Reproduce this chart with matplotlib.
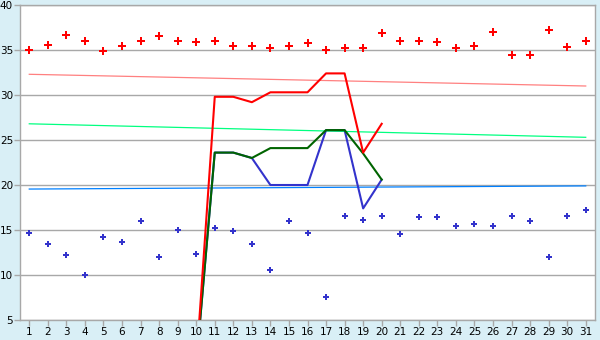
import matplotlib
matplotlib.use('Agg')
import matplotlib.pyplot as plt

# Days of the month
days = list(range(1, 32))

# Upper scatter (red) and lower scatter (blue)
high_pts = [35.0, 35.6, 36.7, 36.0, 34.9, 35.4, 36.0, 36.6, 36.0, 35.9,
            36.0, 35.4, 35.4, 35.2, 35.4, 35.8, 35.0, 35.2, 35.2, 36.9,
            36.0, 36.0, 35.9, 35.2, 35.4, 37.0, 34.4, 34.4, 37.2, 35.3, 36.0]
low_pts = [14.7, 13.4, 12.2, 10.0, 14.2, 13.7, 16.0, 12.0, 15.0, 12.3,
           15.2, 14.9, 13.4, 10.6, 16.0, 14.7, 7.6, 16.6, 16.1, 16.6,
           14.6, 16.4, 16.4, 15.4, 15.7, 15.4, 16.6, 16.0, 12.0, 16.6, 17.2]

# Thick lines, days 10..20
line_days = list(range(10, 21))
red_line = [0.0, 29.8, 29.8, 29.2, 30.3, 30.3, 30.3, 32.4, 32.4, 23.6, 26.8]
green_line = [0.0, 23.6, 23.6, 23.0, 24.1, 24.1, 24.1, 26.1, 26.1, 23.5, 20.6]
blue_line = [0.0, 23.6, 23.6, 23.0, 20.0, 20.0, 20.0, 26.1, 26.1, 17.4, 20.6]

# Thin trend lines (day 1 and day 31)
trend_days = [1, 31]
red_trend = [32.3, 31.0]
green_trend = [26.8, 25.3]
blue_trend = [19.55, 19.9]

fig = plt.figure(figsize=(6, 3.4), dpi=100, facecolor='#d9eff6')
ax = fig.add_axes([20/600, 20/340, 575/600, 315/340])
ax.set_facecolor('white')

ax.plot(trend_days, red_trend, color='#ff8080', lw=0.9, zorder=2)
ax.plot(trend_days, green_trend, color='#00ff80', lw=0.9, zorder=2)
ax.plot(trend_days, blue_trend, color='#0080ff', lw=0.9, zorder=2)

ax.scatter(days, high_pts, marker='P', s=26, color='#ff0000', lw=0, zorder=3)
ax.scatter(days, low_pts, marker='P', s=18, color='#3333cc', lw=0, zorder=3)

ax.plot(line_days, blue_line, color='#3333cc', lw=1.5, zorder=4)
ax.plot(line_days, green_line, color='#006400', lw=1.5, zorder=5)
ax.plot(line_days, red_line, color='#ff0000', lw=1.5, zorder=6)

ax.set_xlim(0.5, 31.5)
ax.set_ylim(5, 40)
ax.set_xticks(days)
ax.set_yticks(range(5, 41, 5))
ax.yaxis.grid(True, color='#a8a8a8', lw=1)
ax.set_axisbelow(True)
for s in ax.spines.values():
    s.set_color('#a8a8a8')
    s.set_linewidth(1)
ax.tick_params(axis='both', colors='#a8a8a8', labelcolor='black',
               labelsize=7.5, length=4, width=1, pad=1)

fig.savefig('out.png', dpi=100, facecolor=fig.get_facecolor())
